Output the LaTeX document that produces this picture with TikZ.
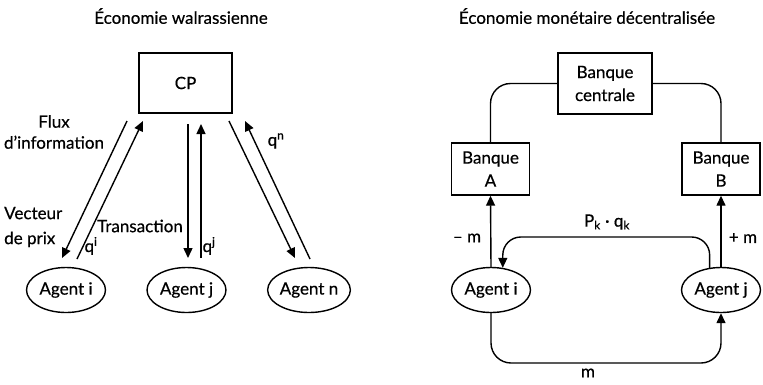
\documentclass[tikz,border=0pt]{standalone}
\usepackage{fontspec}
\setmainfont{Lato}[FakeBold=0.5]
\usetikzlibrary{arrows.meta,shapes.geometric}
\begin{document}
\begin{tikzpicture}[x=1pt,y=-1pt,
  every node/.style={font=\fontsize{17}{20}\selectfont},
  box/.style={draw,line width=1.4pt,rectangle,inner sep=0pt,align=center},
  agent/.style={draw,line width=1.4pt,ellipse,minimum width=79pt,minimum height=45pt,inner sep=0pt},
  link/.style={line width=1.4pt},
  arr/.style={line width=1.4pt,-{Triangle[length=10pt,width=9pt]}},
  lbl/.style={inner sep=0pt}]
\useasboundingbox (0,0) rectangle (763,384);

% ---- Economie walrassienne ----
\node[lbl] (t1) at (181,16) {Économie walrassienne};
\node[box,minimum width=93pt,minimum height=60pt] (cp) at (185.5,83) {CP};
\node[agent] (ai) at (66,290) {Agent i};
\node[agent] (aj) at (186.5,290) {Agent j};
\node[agent] (an) at (309,290) {Agent n};

\coordinate (l1a) at (127,121); \coordinate (l1b) at (62,258);
\coordinate (l2a) at (77,259);  \coordinate (l2b) at (143,121);
\coordinate (m1a) at (188,124); \coordinate (m1b) at (188,258);
\coordinate (m2a) at (201,258); \coordinate (m2b) at (201,124);
\coordinate (r1a) at (229,121); \coordinate (r1b) at (295,258);
\coordinate (r2a) at (310,259); \coordinate (r2b) at (245,121);
\draw[arr] (l1a) -- (l1b);
\draw[arr] (l2a) -- (l2b);
\draw[arr] (m1a) -- (m1b);
\draw[arr] (m2a) -- (m2b);
\draw[arr] (r1a) -- (r1b);
\draw[arr] (r2a) -- (r2b);

\node[lbl,align=center,font=\fontsize{17}{21}\selectfont] (flux) at (54,132) {Flux\\d’information};
\node[lbl,align=left,anchor=west,font=\fontsize{17}{25}\selectfont] (vect) at (4,227) {Vecteur\\de prix};
\node[lbl] (trans) at (140,226) {Transaction};
\node[lbl] (qi) at (91,246) {q\textsuperscript{i}};
\node[lbl] (qj) at (209,246) {q\textsuperscript{j}};
\node[lbl] (qn) at (276,141) {q\textsuperscript{n}};

% ---- Economie monetaire decentralisee ----
\node[lbl] (t2) at (587,16) {Économie monétaire décentralisée};
\node[box,minimum width=94pt,minimum height=61pt,font=\fontsize{17}{23}\selectfont] (bc) at (605,83.5) {Banque\\centrale};
\node[box,minimum width=78pt,minimum height=52pt,font=\fontsize{17}{23}\selectfont] (ba) at (490.5,169) {Banque\\A};
\node[box,minimum width=78pt,minimum height=52pt,font=\fontsize{17}{23}\selectfont] (bb) at (721,169) {Banque\\B};
\node[agent] (ri) at (491,290) {Agent i};
\node[agent] (rj) at (721,290) {Agent j};

\draw[link,rounded corners=20pt] (bc.west) -- (ba.north |- bc.west) -- (ba.north);
\draw[link,rounded corners=20pt] (bc.east) -- (bb.north |- bc.east) -- (bb.north);
\draw[arr] (ri.north) -- (ba.south);
\draw[arr] (rj.north) -- (bb.south);

\coordinate (pqlevel) at (600,237);
\coordinate (mlevel) at (600,363);
\draw[arr,rounded corners=18pt] (rj.117) -- (rj.117 |- pqlevel) -- (ri.62 |- pqlevel) -- (ri.62);
\draw[arr,rounded corners=20pt] (ri.south) -- (ri.south |- mlevel) -- (rj.south |- mlevel) -- (rj.south);

\node[lbl] (pq) at (607,222) {P\textsubscript{k} · q\textsubscript{k}};
\node[lbl] (mm) at (467,238) {– m};
\node[lbl] (pm) at (743,238) {+ m};
\node[lbl] (m) at (588,373) {m};
\end{tikzpicture}
\end{document}
